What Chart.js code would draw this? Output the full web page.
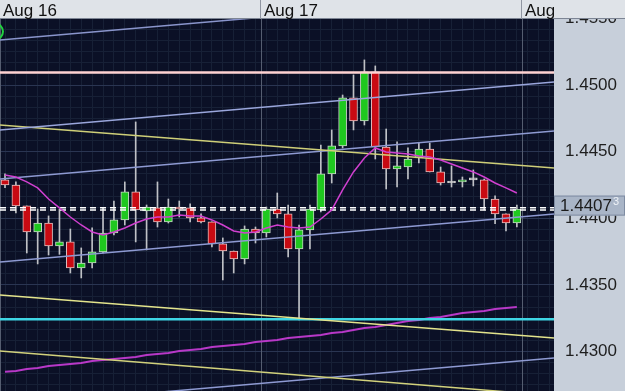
<!DOCTYPE html>
<html><head><meta charset="utf-8">
<style>html,body{margin:0;padding:0;background:#0b1026;overflow:hidden}#wrap{width:625px;height:391px;position:relative}</style>
<script src="https://cdn.jsdelivr.net/npm/chart.js@4.4.1/dist/chart.umd.min.js"></script>
</head><body><div id="wrap"><canvas id="c" width="625" height="391"></canvas></div>
<script>
// ---- data (hourly candles, Aug 16 00:00 .. Aug 17 23:00) ----
const opens  = [1.44288,1.44250,1.44093,1.43898,1.43965,1.43793,1.43823,1.43628,1.43665,1.43748,1.43890,1.43988,1.44198,1.44055,1.44078,1.43973,1.44085,1.44078,1.44003,1.43973,1.43808,1.43755,1.43695,1.43920,1.43890,1.44070,1.44033,1.43770,1.43913,1.44063,1.44333,1.44543,1.44903,1.44730,1.45098,1.44535,1.44370,1.44385,1.44453,1.44520,1.44348,1.44265,1.44273,1.44288,1.44288,1.44145,1.44033,1.43965];
const highs  = [1.44333,1.44273,1.44093,1.44070,1.44018,1.44070,1.43920,1.43778,1.43928,1.44078,1.44130,1.44273,1.44723,1.44100,1.44273,1.44145,1.44130,1.44108,1.44033,1.43973,1.43853,1.43755,1.43943,1.43935,1.44085,1.44190,1.44100,1.43950,1.44100,1.44550,1.44663,1.44925,1.45075,1.45188,1.45143,1.44670,1.44573,1.44528,1.44565,1.44565,1.44385,1.44393,1.44310,1.44363,1.44295,1.44168,1.44033,1.44100];
const lows   = [1.44230,1.44040,1.43740,1.43658,1.43725,1.43730,1.43590,1.43553,1.43628,1.43740,1.43875,1.43950,1.43823,1.43763,1.43935,1.43965,1.44010,1.43973,1.43965,1.43785,1.43538,1.43590,1.43658,1.43815,1.43860,1.44003,1.43710,1.43238,1.43770,1.44048,1.44265,1.44528,1.44663,1.44700,1.44445,1.44220,1.44235,1.44295,1.44415,1.44348,1.44250,1.44235,1.44235,1.44243,1.44063,1.43960,1.43905,1.43935];
const closes = [1.44250,1.44093,1.43898,1.43965,1.43793,1.43823,1.43628,1.43665,1.43748,1.43890,1.43988,1.44198,1.44063,1.44085,1.43973,1.44085,1.44070,1.44003,1.43973,1.43808,1.43755,1.43695,1.43920,1.43890,1.44070,1.44033,1.43770,1.43913,1.44070,1.44333,1.44543,1.44903,1.44730,1.45098,1.44535,1.44370,1.44393,1.44445,1.44520,1.44348,1.44265,1.44265,1.44288,1.44288,1.44145,1.44033,1.43965,1.44070];
const maFast = [1.44325,1.44310,1.44273,1.44228,1.44145,1.44078,1.44010,1.43950,1.43898,1.43875,1.43898,1.43928,1.43965,1.43995,1.44010,1.44010,1.44025,1.44018,1.44018,1.43988,1.43950,1.43905,1.43890,1.43898,1.43928,1.43950,1.43935,1.43928,1.43935,1.43995,1.44063,1.44213,1.44348,1.44453,1.44528,1.44498,1.44490,1.44483,1.44468,1.44460,1.44438,1.44408,1.44378,1.44348,1.44310,1.44265,1.44228,1.44190];
const maSlow = [1.42850,1.42855,1.42870,1.42878,1.42893,1.42900,1.42908,1.42915,1.42930,1.42938,1.42945,1.42953,1.42960,1.42975,1.42983,1.42990,1.43005,1.43013,1.43020,1.43035,1.43043,1.43050,1.43058,1.43073,1.43080,1.43088,1.43103,1.43110,1.43118,1.43125,1.43140,1.43148,1.43163,1.43178,1.43185,1.43200,1.43215,1.43230,1.43238,1.43253,1.43260,1.43275,1.43290,1.43298,1.43305,1.43320,1.43328,1.43335];

// trend lines: price at left edge and at right edge of the plot
const trendStart = [1.453375,1.45094,1.446625,1.447000,1.442950,1.436725,1.434250,1.43243,1.430050,1.425925];
const trendEnd   = [1.456975,1.45094,1.450225,1.443775,1.446550,1.440325,1.431025,1.43243,1.426700,1.429525];
const bidAskLevels = [1.44080, 1.44062];
const lastPrice = 1.44073;
const lastPriceMain = '1.4407';
const lastPriceSup = '3';
const markerPoint = [{x: -0.92, y: 1.45401}];

const dayLabels = ['Aug 16', 'Aug 17', 'Aug'];
const dayStarts = [0, 24, 48];
const yTickLabels = ['1.4300','1.4350','1.4400','1.4450','1.4500','1.4550'];

// ---- styles ----
const trendColors = ['#8a95cc','#ffd2d2','#9aa6dc','#cfcf78','#8e9ad2','#8e9ad2','#e4e48c','#3fd5e4','#d2d27c','#8e9ad2'];
const trendWidths = [1.5,2.5,1.5,1.5,1.5,1.5,1.5,2.5,1.5,1.5];
const X_MIN = -0.46, X_MAX = 50.41, Y_MIN = 1.42705, Y_MAX = 1.456375;
const BG = '#0b1026', PANEL = '#c7cfda', HEADER = '#dfe3e8';
const FONT = "'Liberation Sans', Arial, sans-serif";

const idx = opens.map((_, i) => i);
const isMajor = v => Math.abs(v * 200 - Math.round(v * 200)) < 1e-6;

const datasets = [];
trendStart.forEach((p, k) => {
  datasets.push({type: 'line', data: [{x: X_MIN, y: p}, {x: X_MAX, y: trendEnd[k]}],
    borderColor: trendColors[k], borderWidth: trendWidths[k], pointRadius: 0, order: 1});
});
datasets.push({type: 'line', data: idx.map(i => ({x: i, y: maSlow[i]})), borderColor: '#b838c8', borderWidth: 2, pointRadius: 0, order: 1});
datasets.push({type: 'line', data: idx.map(i => ({x: i, y: maFast[i]})), borderColor: '#d040d0', borderWidth: 1.5, pointRadius: 0, order: 0});
bidAskLevels.forEach(p => {
  datasets.push({type: 'line', data: [{x: X_MIN, y: p}, {x: X_MAX, y: p}], borderColor: '#ffffff', borderWidth: 1.5, borderDash: [6, 4], pointRadius: 0, order: 0});
});
datasets.push({type: 'scatter', data: markerPoint, pointRadius: 8, pointBorderWidth: 2, pointBorderColor: '#22d040', pointBackgroundColor: 'rgba(0,0,0,0)', clip: false, order: 0});
// wicks
datasets.push({type: 'bar', data: idx.map(i => ({x: i, y: [lows[i], highs[i]]})), backgroundColor: '#bfc1c6', barThickness: 1, grouped: false, order: 3});
// bodies
datasets.push({type: 'bar', data: idx.map(i => ({x: i, y: [opens[i], closes[i]]})),
  backgroundColor: c => { const i = c.dataIndex; return closes[i] > opens[i] ? '#1fc81f' : closes[i] < opens[i] ? '#c80a12' : '#c8c8c8'; },
  borderColor: c => { const i = c.dataIndex; return closes[i] > opens[i] ? '#c8d6c8' : closes[i] < opens[i] ? '#e2c0c0' : '#d0d0d0'; },
  borderWidth: 1, borderSkipped: false, barThickness: 8, minBarLength: 2, grouped: false, order: 2});

const decor = {
  id: 'decor',
  beforeDraw(chart) {
    const {ctx, chartArea: a, width, height} = chart;
    ctx.save();
    ctx.fillStyle = BG; ctx.fillRect(0, 0, width, height);
    ctx.fillStyle = PANEL; ctx.fillRect(a.right, 0, width - a.right, height);
    ctx.restore();
  },
  beforeDatasetsDraw(chart) {
    const {ctx, chartArea: a, scales: {x}} = chart;
    ctx.save();
    ctx.strokeStyle = '#555d70'; ctx.lineWidth = 1;
    dayStarts.forEach(d => {
      const px = Math.round(x.getPixelForValue(d - 0.5)) + 0.5;
      ctx.beginPath(); ctx.moveTo(px, a.top); ctx.lineTo(px, a.bottom); ctx.stroke();
    });
    ctx.restore();
  },
  afterDraw(chart) {
    const {ctx, chartArea: a, width, scales: {x, y}} = chart;
    ctx.save();
    // price tag
    const py = y.getPixelForValue(lastPrice) - 3;
    ctx.fillStyle = '#a9b5c7'; ctx.fillRect(a.right, py - 10, width - a.right, 20);
    ctx.strokeStyle = '#7f8ca2'; ctx.lineWidth = 1; ctx.strokeRect(a.right + 0.5, py - 9.5, width - a.right - 1, 19);
    ctx.fillStyle = '#1c1c1c'; ctx.font = '17px ' + FONT; ctx.textBaseline = 'middle'; ctx.textAlign = 'left';
    ctx.fillText(lastPriceMain, a.right + 6, py + 1);
    const w = ctx.measureText(lastPriceMain).width;
    ctx.fillStyle = '#eef2f7'; ctx.font = '11px ' + FONT;
    ctx.fillText(lastPriceSup, a.right + 6 + w + 1, py - 4);
    // header
    ctx.fillStyle = HEADER; ctx.fillRect(0, 0, width, 19);
    ctx.strokeStyle = '#7d8594'; ctx.beginPath(); ctx.moveTo(0, 18.5); ctx.lineTo(width, 18.5); ctx.stroke();
    ctx.font = '17px ' + FONT; ctx.textBaseline = 'alphabetic'; ctx.fillStyle = '#111';
    dayStarts.forEach((d, k) => {
      const px = Math.round(x.getPixelForValue(d - 0.5));
      ctx.strokeStyle = '#9096a2'; ctx.beginPath(); ctx.moveTo(px - 0.5, 0); ctx.lineTo(px - 0.5, 19); ctx.stroke();
      ctx.save(); ctx.beginPath(); ctx.rect(0, 0, a.right, 19); ctx.clip();
      ctx.fillText(dayLabels[k], px + 3, 16);
      ctx.restore();
    });
    ctx.restore();
  }
};

new Chart(document.getElementById('c'), {
  data: {datasets},
  plugins: [decor],
  options: {
    responsive: false, animation: false, devicePixelRatio: 1,
    layout: {padding: 0, autoPadding: false},
    plugins: {legend: {display: false}, tooltip: {enabled: false}},
    scales: {
      x: {
        type: 'linear', min: X_MIN, max: X_MAX, offset: false,
        ticks: {display: false},
        grid: {color: '#172036', lineWidth: 1, drawTicks: false},
        border: {display: false},
        afterBuildTicks: s => { const t = []; for (let i = 0; i <= 51; i++) t.push({value: i - 0.5}); s.ticks = t; },
        afterFit: s => { s.height = 0; s.paddingLeft = 0; s.paddingRight = 0; }
      },
      y: {
        type: 'linear', position: 'right', min: Y_MIN, max: Y_MAX,
        ticks: {
          autoSkip: false, padding: 11, color: '#1e1e1e', font: {family: FONT, size: 17},
          callback: v => { const s = v.toFixed(4); return isMajor(v) && yTickLabels.includes(s) ? s : ''; }
        },
        grid: {color: c => isMajor(c.tick.value) ? '#2a3552' : '#172036', lineWidth: 1, drawTicks: false},
        border: {display: false},
        afterBuildTicks: s => { const t = []; for (let k = 0; k <= 40; k++) { const v = 1.4250 + k * 0.005 / 6; if (v >= Y_MIN && v <= Y_MAX) t.push({value: v}); } s.ticks = t; },
        afterFit: s => { s.width = 71; s.paddingTop = 0; s.paddingBottom = 0; }
      }
    }
  }
});
</script></body></html>
